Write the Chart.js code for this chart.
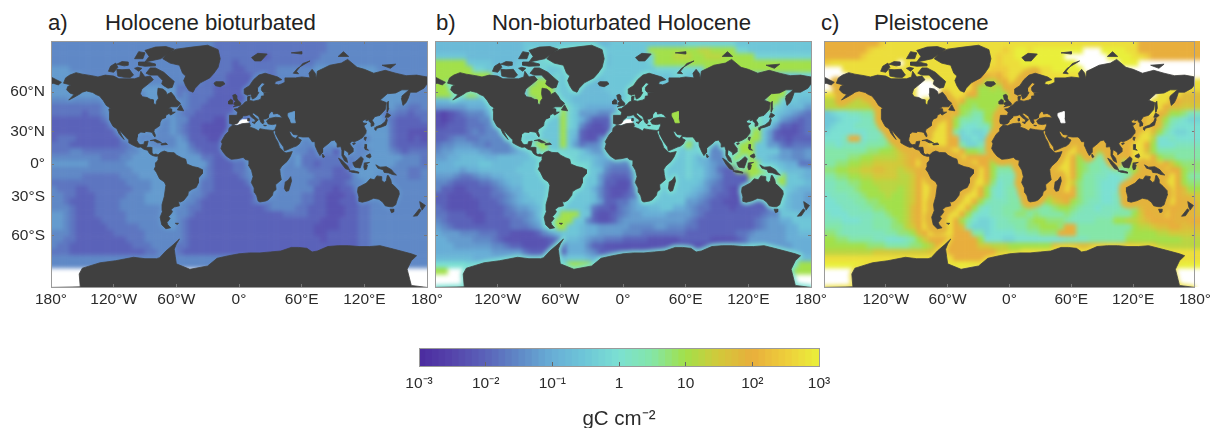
<!DOCTYPE html>
<html>
<head>
<meta charset="utf-8">
<title>Carbon maps</title>
<script src="https://cdn.jsdelivr.net/npm/chart.js@4"></script>
<style>
  html, body { margin: 0; background: #fff; overflow: hidden; }
  body { position: relative; width: 1217px; height: 428px; font-family: "Liberation Sans", Arial, sans-serif; }
  canvas { position: absolute; left: 0; top: 0; }
  .fundo { filter: blur(2px); }
  .titulo { position: absolute; top: 9px; font-size: 22.2px; line-height: 28px; color: #222; white-space: nowrap; }
</style>
</head>
<body>
<span class="titulo" style="left:48px">a)</span>
<span class="titulo" style="left:105px">Holocene bioturbated</span>
<span class="titulo" style="left:436px">b)</span>
<span class="titulo" style="left:492px">Non-bioturbated Holocene</span>
<span class="titulo" style="left:821px">c)</span>
<span class="titulo" style="left:874px">Pleistocene</span>
<canvas class="fundo" id="mapABase" width="1217" height="428"></canvas>
<canvas class="fundo" id="mapBBase" width="1217" height="428"></canvas>
<canvas class="fundo" id="mapCBase" width="1217" height="428"></canvas>
<canvas id="mapA" width="1217" height="428"></canvas>
<canvas id="mapB" width="1217" height="428"></canvas>
<canvas id="mapC" width="1217" height="428"></canvas>
<canvas id="colorbar" width="1217" height="428"></canvas>
<script>
// tick labels
const lonTicks = ['180°', '120°W', '60°W', '0°', '60°E', '120°E', '180°'];
const latValues = [60, 30, 0, -30, -60];
const latTicks = ['60°N', '30°N', '0°', '30°S', '60°S'];
const colorbarTicks = ['10⁻³', '10⁻²', '10⁻¹', '1', '10', '10²', '10³'];
const colorbarLevels = [-2.95, -2.85, -2.75, -2.65, -2.55, -2.45, -2.35, -2.25, -2.15, -2.05,
  -1.95, -1.85, -1.75, -1.65, -1.55, -1.45, -1.35, -1.25, -1.15, -1.05,
  -0.95, -0.85, -0.75, -0.65, -0.55, -0.45, -0.35, -0.25, -0.15, -0.05,
  0.05, 0.15, 0.25, 0.35, 0.45, 0.55, 0.65, 0.75, 0.85, 0.95,
  1.05, 1.15, 1.25, 1.35, 1.45, 1.55, 1.65, 1.75, 1.85, 1.95,
  2.05, 2.15, 2.25, 2.35, 2.45, 2.55, 2.65, 2.75, 2.85, 2.95];

// colour scale, log10(gC cm-2)
const stopValues = [-3, -2.5, -2, -1.5, -1, -0.5, 0, 0.5, 1, 1.5, 2, 2.5, 3];
const stopColors = [[75, 42, 159], [85, 68, 171], [90, 98, 185], [95, 136, 198], [104, 174, 214], [110, 198, 216],
  [123, 224, 210], [132, 230, 168], [162, 224, 74], [210, 201, 58], [232, 174, 60], [238, 205, 59], [233, 239, 58]];

// one letter per cell, a = 10^-3 ... m = 1 ... y = 10^3 (steps of 0.25), . = no data
// each group of ten cells is 60 degrees of longitude
const holoceneRows = [
  'gggggggggg gggggggggg ggggggffff ffffffffff ffffgggggg gggggggggg',
  'gggggggggg gggggggggg ggggggffff ffffffffff ffffgggggg gggggggggg',
  'gggggggggg gggggggggg ggggggffff fffeefffff fffggggggg gggggggggg',
  'gggggggggg gggggggggg ggggggfffe ffffffffff ffgggggggg gggggggggg',
  'hhhggggggg gggggggggg ggggggfffe efffffgggg gghhhhhhhh hhgggggggg',
  'hhhhhggggg gggggggggg gggggfffee eeffffgggg gghhhhhhhh hhhggggggg',
  'hhhhhhgggg gggggggggg ggggffffee eeffgggggg gggggggggg hhhhhhgggg',
  'hhhhhhhhhg gggghhhhhh ffffffeeee eefhhhgggg gggggggggg ggghhhhhgg',
  'hhhhhhhhhg ggggghhhhh fgffffeeee eefhhhhggg gggggggggg gghhhhhggg',
  'gggggggggg ggggghhhhh ggfffeeeee eegghhhggg gggggggggg gghhhhhggg',
  'ffffffffgg ggggghhggg ggffeeeeee efggggffgg gggggggggg gghhhggffg',
  'fffffeffgg gggggggggg gffeeeeeee eegggggggg gggggggggg hhhfgffeff',
  'eeeeeeeefg gggggggggh ggeeeeddee eehhhhhggg gggggggggg hhhgfeeeef',
  'eeeeeeeeef gggggggggh gfeeddddee ehhhhhhhhg gggggggggg hhhhfeeeee',
  'eeeeeeeeee fggggggggh gfeeddddee ehhhhhgggg gggggggggg hhhhfeeddd',
  'efffeeeeee efgggggggg hgeeedddee eggggggggg gggggggggg ghhhfeeded',
  'fffeeeeeee effggggggg hhfeeeeeee fggggggggg ggggghgggg hhhhfeeeee',
  'fffggfffff ffgghhhhhh hhgfeeeeee efgggggggg gfffgeeggg ghhhgfefff',
  'ggggggggff fgghhhhhhh hhhhffeeef fggggggggh ffffffffgg hhhhhhgggf',
  'hhhhhhgggg gghhhhhhhh hhhhhfeeef fggggggggh ffefffffgg hhhhhggggf',
  'gggggggggg ggghhhhhhh hhhhgfeeef fggggggggg gffffeefhh hhhhgggffg',
  'gggggfffff fggghhhhhh hhhggfeeee fggggggggg ggfffeeegh hhgggggffg',
  'ffffffffff ffgggghhhh hgggffeeee efgggggggg gffeeeefgg hhgggggggg',
  'gfffeeffff fffggghhhh hhggffeeee eefggggggg ggeeedeeff gggggggggg',
  'ggffeeefff ffggghhhhh hhggfeeeee eeeefggggg ffeedddeef gggggggggg',
  'ggfeeeefff fgggghhhhh gggfeeeeee eefffggggg ffeeddeeef fggggggggg',
  'gggfeeefff fggggggggg ggffeeeeee eeeefggggf feeedddeef fggggggggg',
  'hhgfeeefff ffgggggggh ggfeeeeeee eeeeeeefff feeedddeef fggggggggg',
  'hhgfeeeeff ffgggggggh gfeeeeeeee eeeeeeeeee eeedddeeef fggggggggg',
  'hhgfeeeeef ffffgggggh gfeeeeeeee eeeeeeeeee eeddddeeef fggggggggg',
  'gggfeeeeee fffffggggg gfeeeeeeee eeeeeeeeee eeddeeeeef fggggggggg',
  'ggffeeeeee eefffggggg gfeeeeeeee eeeeeeeeee eeedeeeeef fggggggggg',
  'gffeeeeeee eeefffgggg ffeeeeeeee eeeeeeeeee eeeeeeeeef fggggggggg',
  'fffeeeeeee eeeeeffggg feeeeeeeee eeeeeeeeee eeeeeeeeef fggggggggg',
  'gggggggggg gggggggggg gggggggggg gggggggggg gggggggggg gggggggggg',
  'gggggggggg gggggggggg gggggggggg gggggggggg gggggggggg gggggggggg',
  '.......... .......... .......... .......... .......... ..........',
  '.......... .......... .......... .......... .......... ..........',
  '.......... .......... .......... .......... .......... ..........'
];
const nonBioturbatedRows = [
  'jjjjjjjjjj jjjjkkkkkk kkkkkkjjkk kkkkkkkkkk llllllllkk kkkkkkkkkk',
  'jjjjjjjjjj jjjjklllll kkkkkkkkkk kkkkqqqqqq qqrrqqqqll kkkkkkkkkk',
  'kkkkkjjjjj jjjjklllll lkkkkjjjkk kkkklqqqrr rqqrrrqqqq qlllllllll',
  'qqqqqkkkkj jjjkklllll lllkkjjjkk kkkklqqqqq qqqqqqqqqq qqqqqqqqqq',
  'qqqqqqllkk kkkkllllkk kklkkkkkkk kkkkklllll lllqqqqqqq qqqqqqqqqq',
  'qqqqqqqqqk kkkkkkklkl kkkkjjkkkk kkkkkkkkll kkkkkkkkkk kkkkkkkkll',
  'qqqqqqqqlk kkkkkkqqql kkkjjjjkkk kkqkkkkkkk kkkkkkkkkk kkkkkkkkll',
  'qqqqqqqqqk jkkkkqqqql kkjjjjjkkk kqqqkkkkkk kkkkkkkkkk kkkkqqllkk',
  'qqqqqqqkkj jkkkkqqqql kkjjjjjjkk kqqkkkkkkk kkkkkkkkkk kkkqqqlkkk',
  'jjjjjjjjjj jjkkkkqqkk kkjjjjjjjj lqqkkkkkkk kkkkkkkkkk kkkqqlkkjj',
  'hhhhhiiijj jkkkkkkkkk qlkjiiiiii iikkkkkkkk kkkkkkkkkk kkkqlkjjjh',
  'dcdefgggii jjkkkkkkkk qlkhhhgggg hhkkkkkkkk kkkkkkkkkk kkllkjihgf',
  'dcdeeffggi jjkkkkkkkk qlkigeeeee fhikllkkkk kkkkkkkkkk kqllkhgfef',
  'ddeeefffgh jjjkkkkkkk qlkgeddeed fhkllllkkk qqkkkkkkkk qqlkheedef',
  'eeeeefgfgg hjkkkkkkkk qkjeddddee dgkllllkkk kqkkkkkkqq qqkhedddef',
  'eefggffggg ghjkkkkkkk qkieddgdde eiklllkkkk kqkkkkkkqq qqkheedeee',
  'fgghhhggfg gghkkkqqkk qkhfgghfee fikkkkkkkk qkkhggfkqq qkkhhfefff',
  'ghhiiiihhg gghijkkqkk lllkihhhgh iikkkkkkkk llkiggefqq qkkkkhhggh',
  'hhiijjjjii jjjjjkkkkk lllkkjiihh hhkkkkkkkk lkiiggfqqq qkkjihhggh',
  'iiijjjjkkj jjjjkkkkkk klllljihgg ghikkkkkkk lkjihggqqq qqkkkjiiff',
  'iiiihiijjj jjjkkkkkkk kkkkkkjgff fghikkkkkk lkkihfeeqq qqqqkkjjji',
  'hhhgffghhi ijjjkkkkkk kkkkkkhfee eghikkkkkk lkkihgeeee qqqqqqkkji',
  'ggfeeeeffg hijjkkkkkk kkkkkkheed deghkkkkkk kkjhgfeeed eqqqqqkkkj',
  'geeddeeeef ghiikkkkkk kkkkkigedd dfghkkkkkk kjihffedde eekkkkkjii',
  'eeddddeeef fghijkkkkk kkkkkjgedd efgikkkkkk jihgfeedde eeekkkjiih',
  'eedddddeee fghijjkkkk kkkkkjheef fhikkkkkkk hhgfeeddde eeekkkjiih',
  'fedddddeee efghhijkkk kkkkjfeedf ghiijjkkii hgffeeedee eeefhkjiii',
  'ffeeedddee effgghjkkk qqqkkeddef ghhiiiihhh hgfeeeeeee eefggkkkjj',
  'gfeeeeddee eeffghijkq qqkkgeddeg hhhhhhhhhh gfeeeeeeee efghhiikkk',
  'hgfeeeeeee eefffghjkq qkkjiihhhh hgggghhggg ffeeeeeeee efghhhiikk',
  'ihhhgggfff eeddddeghj kkkjiihhhh gggfffffff eeeeeeeeff ghhhhhiijj',
  'iihhhhgggf edddddddef ijjihggfff eeeeddddde eeeeddddef hhhhhhiiii',
  'iiihhhhhhg gfeeddddee fiiigeeddd dddddddddd ddddddddef hhhhhhhiii',
  'iiiiiiiiih hhhhfeeeee eiiihgeeee dddddeeeee eeeeeffghh hiiiiiiiii',
  'jjjjjjiiii iiiiihhhii jkkkjiiiii iiihhhhhhh hiiiiiiijj jjjjjjjjjj',
  'mmmmmlllll kkkkkkjjjk kqqqqkkkkk kkkkkkkkkk kkkkkkkkkk kkklllmmqq',
  'qq........ ...qqqqqqq qqqqqqqqqq qqqqqqqqqq qqqqqqqqqq qqqqqqqqqq',
  '.......... .......... .......... .......... .......... ..........',
  '.......... .......... .......... .......... .......... ..........'
];
const pleistoceneRows = [
  'uuuuuuuuuw xxxxxxxxxx xxxxxxxxxx xxxxxxxxxx xxxxxxxxxx xuuuuuuuuu',
  'uuuuuuuwxx xxxxxxxxxx xxxxxxxxxw xyyxyyyyyy yy...yyyyx xuuuuuuuuu',
  'uuuuuuwxxx xxxxxxxxxx xxxxxxxxwx xyyxyyyyy. ......yyyy xxwuuuuuuu',
  'wxxxxxxxxx xx.xxxxxxx xxxxxxxxwx xxyyyyyyyy y.......yy y.........',
  '...xxxxxxx xxxxxxxxxx xxxxxxxwww xxxxxxxyyy yy........ ..........',
  '....xxxxxx xxxxxxxxxx xxxxxuuvuw xxxxxxxxxx xxxxxxxxxx ..........',
  '....xxxxxx xxxxx...xx xxxxuurrtu xxx.xxxxxx xxxxxxxxxx xxxxxxxxxx',
  '....xxxxxx xxxxx....x xxxxuqqrqu x..xxxxxxx xxxxxxxxxx xxx..xxxxx',
  'xxxuuuuuut xxxxx....x xxxuuqqqqq w..xxxxxxx xxxxxxxxxx xx..xxxxtt',
  'rrrrrrsstu uxxxx.xxxx xxuqqqqqqq t.xxxxxxxx xxxxxxxxxx xx.xxxuutt',
  'rrrrrrrrrs tuuxxxxxxx xuqqpqqqqp txxxxxxxxx xxxxxxxxxx xxxxxuttss',
  'klmmnnoopq rtuxxxxxxx xuqpooqqqq uuxxxxxxxx xxxxxxxxxx xxxxutqqpn',
  'kklmmmnnoo qsuxxxxxxx uqoonnqqqq uxxxxxxxxx xxxxxxxxxx xxxutqonml',
  'klmmmnnnoo pruxxxxxxx uqnmmnnqqq uxxyyyyxxx ..xxxxxxxx xxxutpnmmm',
  'lmmmmmmnnn oqtuxxxxxx uolmllmpqr uxxxxxxxxx x.xxxxxxxx xxxtqomllm',
  'mmmnuumnno oqsuxxxxxx uullmllmpq tuxxxxxxxx ..xxxxxxxx xxxrmmnmmm',
  'nnmnnnnooo pqstuxxxxx uuollnmoqq suxxxxxxxx xxutsrsuuu xxuqmmmnnn',
  'oooooooppq qrstuuxxxx xxuqqpooqq ssuxxxxxxx xuqpqrtuuu xxtqoooooo',
  'ooooppqqrr rrstuxxxxx xxxuuuuqqq qrsuxxxxxx uqpooopqsu xxxuqppooo',
  'ooppqqrrss ssstuxxxxx xxxxxuuqpp pqrsuxxxxx uqpoonoopq txxxxusqpp',
  'ppqqrrsstt ssrstuxxxx xxxxxxuqoo opqsuxxxxx uqpoonnoop qtxxxxuuqp',
  'ooppqqrrss ssrrsuxxxx xxxxxxuqnn nopqsuxxxx uqoonnmmno pruxxxxuqo',
  'nnooppqqrr rrrrsuxxxx xxxxxxtpmn noopqsuxxx spoonmmmmn oqtxxxxuqp',
  'nnooopqqqr rrqrsuxxxx xxxxxuqnmn onopqrsuxx upoonmmmnn oqtuxxxutq',
  'mnnnoopqqq rqqrsuxxxx xxxxxuqnmn onoopqrtuu upoonmmnnn oquxxxxuts',
  'mmnnnooppq qqqrsuxxxx xxxxuqonnn oopoooqstu qponnmmnno ptuxxxxuts',
  'mmmnnnoopp qqqrtuxxxx xxxuqnmnno ooppooopqq ponnmnnnoo ptuxxxuuts',
  'nmmmnnnnoo pqqrtuxxxx xxuqnmmnno oppopoooop onnnnnnooo qsuuxxuttt',
  'nnnmmmnnoo opqrtuxxxx xuqomllmnn ooopqqpppo nnnnoooqqr rstuuuuttu',
  'ooonnnnnoo opprsuxxxx xutnlllmnn nooppqqqpu uooooooooo qrrsttuutt',
  'pponnnnnnn ooppqtuxxx xuuuoolmmm mnnoopppuu uoooooooop qqqqrrssss',
  'qqppoooonn mmmnoqsuuu uuuuuqmmml lmmmmmmmmn nnnooooooq qqqqqqqqrr',
  'qqqqqqqppp ooooppqruu uuuuussrrr qqqqqqqttt ttttuuuuuu ttttrrrrrr',
  'rrrrrrrrss ssssssstuu uuuuuuuuss rrxxxxxxxx xxxxxxxxxx xxxxxxxxxx',
  'xxxxxxxxxx xxxxxxxxxx xuuuuuuuxx xxxxxxxxxx xxxxxxxxxx xxxxxxxxxx',
  'yyyyyyyyyy yyyyyyyyyy yyyyyyyyyy yyyyyyyyyy yyyyyyyyyy yyyyyyyyyy',
  '.......... .......... .......... .......... .......... ..........',
  '.......... .......... .......... .......... .......... ..........',
  '.......... .......... .......... .......... .......... ..........'
];

// coastlines, [lon, lat]
const northAmericaArctic = [[-168,65.5],[-166,68.5],[-162,70],[-156,71.3],[-150,70.5],[-141,69.7],[-135,69],[-128,70],[-120,69.5],[-115,68],[-108,68],[-100,68],[-95,69],[-94,72],[-90,69],[-85,69.5],[-82,67.5],[-87,65],[-93,62],[-94.5,59],[-92.5,57],[-88,56.5],[-85,55.3],[-82.3,55],[-82,52.5],[-79.5,51.3],[-79,54],[-77,56],[-78,59],[-77.5,62.5],[-73,62],[-70,60.5],[-69,58.5],[-65,60],[-62,57.5]];
const northAmericaAtlantic = [[-62,57.5],[-60,55],[-56,52.5],[-59,50],[-65,50],[-68,48.8],[-65,48.5],[-64.5,46],[-61,46],[-65.5,43.7],[-67,45],[-70,43.5],[-70.5,41.7],[-74,40.5],[-75.5,38],[-76,35],[-78,33.8],[-81,32],[-81.5,30],[-80,26.8],[-80.5,25.2],[-82,27],[-83,29.2],[-85,29.7],[-89,30.2],[-90,29.2],[-94,29.6],[-97,27.8],[-97.5,25],[-97.8,22],[-96,19],[-94,18.2],[-91,18.7],[-90.5,21],[-87,21.5],[-88,17.5],[-88.8,15.8],[-84,15.8],[-83.5,12],[-83.5,10.5],[-81.5,9],[-79.5,9.5],[-77.3,8.5]];
const northAmericaPacific = [[-77.3,8.5],[-78,7.5],[-80,7.3],[-83,8.2],[-85.7,10],[-87.5,13],[-91,14],[-94,16],[-97,15.8],[-101,17.5],[-105.5,20],[-105.5,22.5],[-109,25.7],[-112.5,29.5],[-114.7,31.5],[-112.5,27],[-110,23],[-112,25],[-115,28.5],[-117,32.5],[-120.5,34.5],[-122.5,37.5],[-124.2,40.5],[-124,46],[-124.6,48.3],[-123,49],[-127,51],[-130,54.5],[-133.5,57.5],[-137,58.5],[-140,59.8],[-146,60.8],[-150,60],[-152,59],[-157,57],[-163,54.8],[-158,58.5],[-162,59.5],[-165,61.5],[-164,63.5],[-161,64.5],[-168,65.5]];
const southAmerica = [[-77.5,8.5],[-75,11],[-71.5,12.3],[-68,11],[-62,10.7],[-60,8.5],[-55,6],[-51,4.5],[-50,0],[-44,-2.5],[-39,-3.5],[-35,-5.5],[-35,-9],[-39,-13.5],[-39,-18],[-41,-22],[-45,-23.7],[-48.5,-26],[-49,-29],[-53,-33.5],[-56,-34.8],[-58,-34.3],[-57,-38],[-62,-39],[-65,-41],[-63.7,-42.7],[-65.5,-45],[-67.5,-46.5],[-66,-48],[-69,-51],[-68.2,-52.5],[-65.5,-54.7],[-70,-55.3],[-74,-52.5],[-75.5,-47],[-73,-42],[-73.7,-37],[-71.5,-30],[-70,-20],[-71.5,-17],[-76,-14],[-79,-8],[-81.2,-5],[-80,-2.5],[-80,1],[-78.5,2.5],[-77.3,4],[-77.5,8.5]];
const africa = [[-6,35.7],[-2,35],[3,36.8],[10,37.3],[11,35],[10,34],[15,32.5],[19,30.5],[20,32.5],[25,31.7],[32,31],[34.3,31.3],[32.5,29.9],[35,24],[37,21],[39,15.5],[43,11.7],[45,10.5],[51,11.8],[49,7],[46,2.5],[41,-2],[39,-5],[39.5,-10],[40.5,-15],[35,-19.5],[35.5,-24],[32.7,-26],[32,-29],[28,-33],[25.5,-34],[20,-34.8],[18.3,-34],[17,-29.5],[15,-26.5],[14.5,-22.5],[11.8,-17.5],[13.5,-12],[12,-6],[9,-1],[9.5,3.5],[6,4.3],[4,6.3],[-2,5],[-7.5,4.5],[-12,7.5],[-15,11],[-17.3,14.7],[-16,19],[-17,21],[-13,27.5],[-10,30],[-9.5,33],[-6,35.7]];
const eurasiaArctic = [[25,71],[31,70],[37,69],[41,67.5],[35,66.5],[34,65],[38,64.5],[40.5,65],[44,66],[44,68.5],[54,68.5],[60,69],[68,68.5],[67,71],[70,73],[73,71],[74,68],[75,72],[81,73.5],[87,75],[98,76],[104,77.7],[113,74],[120,73],[129,71],[140,72.5],[150,71],[160,69.7],[170,70],[180,69],[180,65],[177,62.5],[170,60],[164,60],[162,56],[160,53],[157,51],[155.5,56],[156,57.5],[163,61.5],[156,61.5],[150,59.5],[142,59],[135,54.7],[141,53],[140,48],[135,43.5],[130,42.5]];
const eurasiaSouth = [[130,42.5],[127.5,39.5],[129.3,37],[129,35.2],[126.5,34.5],[126.5,37],[125,38.5],[124.5,40],[121.5,39],[122,40.7],[118,39],[119,37.3],[122.5,37],[119.5,35],[121.8,31],[121.5,28.5],[118,24.5],[114,22.3],[110.5,21],[108,21.5],[106,19],[109,15],[109,11.5],[105,8.7],[105,10.5],[102.5,12.5],[100.5,13.5],[100,9],[103,5.5],[104,1.5],[101,3],[98.5,8],[98.5,13],[97.5,16.5],[94.5,16],[94,19],[91.5,22.5],[88,21.7],[86.5,20],[82,16.5],[80,15],[80,11],[77.5,8],[75.5,11.5],[73,17],[72.7,21],[70,21],[68.5,23.5],[66.5,25.3],[61,25.2],[57,25.8],[56.5,27],[52,27.5],[50,30],[48,30],[50,26.5],[51.5,25],[54,24],[56.3,26],[56.8,24],[59.7,22.5],[57.7,19],[55,17],[52,16],[45,13],[43.3,12.8],[42.7,16],[39,21],[35,28],[34.9,29.5],[34.3,31.5],[35.9,35],[36,36.7],[32,36],[28,36.5],[26.3,39],[29,41],[35,42],[41.5,41.5],[39,44],[36.5,45],[33,44.5],[33,46],[30.7,46.5],[28.5,44],[28,41.7],[26,40.7],[23,40.5],[24,38],[22.7,36.5],[21,38],[19.5,41],[19,42.5],[14,45.3],[12.5,44.5],[16,41.7],[18.5,40],[16,38],[15.5,40],[12,42],[10,44],[6.5,43.2],[3.3,43],[3,41.7],[0,39.5],[-0.5,38],[-2,36.8],[-5.5,36],[-9,37],[-9.5,39],[-8.8,43.5],[-2,43.5],[-1.2,46]];
const eurasiaBaltic = [[-1.2,46],[-4.7,48.3],[-1.5,48.7],[1.5,50.5],[3.5,51.5],[6,53.5],[8.5,54],[8.2,57],[10.7,57.5],[10,54.5],[14,54],[18.5,54.7],[21,55.5],[21.5,57.5],[24,57.5],[24,59.5],[29.5,60],[23,60],[21.3,61.5],[21.5,63],[25,65.2],[22,65.8],[17.5,62.5],[17.5,60.5],[19,59.8],[16.5,57],[14.5,56],[12.8,55.5],[11.2,58.8],[8,58],[5.3,59],[5,62],[10,64],[14,67.5],[19,70],[25,71]];
const australia = [[114,-22],[113.5,-26],[115,-31],[115,-34.3],[118,-35],[123.5,-33.8],[129,-31.6],[134,-32.5],[137.7,-35],[140,-38],[144,-38.7],[147,-38.8],[150,-37.2],[151.5,-33],[153.5,-28],[153,-25],[149,-21],[146,-18.5],[145.3,-15],[143,-11],[142,-11],[141,-16],[139,-17.5],[136,-15],[136.7,-12],[132,-11.3],[129.5,-15],[125.7,-14],[122,-18],[117,-20.5],[114,-22]];
const antarctica = [[-180,-85.2],[-152,-85],[-153,-80],[-150,-77.5],[-133,-75],[-118,-74],[-101,-72.3],[-90,-73],[-79,-73],[-76,-72.5],[-70,-69],[-63,-65.5],[-57,-62],[-60,-65],[-62,-68],[-61,-72],[-60,-75.5],[-47,-78],[-30,-76.5],[-21,-72.8],[-10,-71.5],[0,-70.5],[10,-70],[20,-70],[30,-69.5],[40,-69],[50,-67],[57,-67],[65,-67.5],[70,-69.5],[75,-69],[85,-66.5],[95,-66],[105,-66],[115,-66.5],[125,-66.5],[135,-66],[145,-67.5],[155,-69],[165,-70.5],[170,-71.5],[165,-74],[161,-78],[165,-84.5],[180,-85.2],[180,-87],[-180,-87]];
const greenland = [[-73,78],[-68,80.5],[-60,82],[-45,82.8],[-30,83.5],[-20,81.8],[-18,78],[-20,74],[-24,71],[-28,68.5],[-37,65.7],[-42,62.5],[-44,60],[-48,61],[-51,64],[-53,67],[-51,69.5],[-54,71],[-57,75],[-66,76],[-73,78]];
const madagascar = [[49.5,-12],[50.3,-16],[47.5,-25],[45,-25.5],[43.5,-23],[44.3,-17],[47,-15.5],[49.5,-12]];
const borneo = [[109,1.5],[111,2],[113.5,4],[116.8,7],[119,5],[117.7,1],[116,-3.8],[111,-3],[109.5,-0.5],[109,1.5]];
const newGuinea = [[131,-0.8],[135,-3],[141,-2.6],[146,-5.5],[148,-8],[150.7,-10.5],[147,-10],[143.5,-8.5],[139,-8],[138,-5.5],[133,-4],[131,-0.8]];
const tasmania = [[144.7,-40.8],[148.3,-40.8],[148,-43],[146,-43.5],[144.7,-40.8]];
const newZealandNorth = [[173,-34.5],[178.5,-37.7],[175.3,-41.5],[174,-39],[173,-34.5]];
const newZealandSouth = [[172.7,-40.5],[174.3,-41.7],[170.8,-45.9],[167,-46.3],[172.7,-40.5]];
const islands = [
  [[-80,73.7],[-72,71.5],[-67,69],[-62,66.5],[-64,63],[-68,62.5],[-72,64],[-74,65],[-73,67],[-78,70],[-85,70],[-89,71],[-85,73.7],[-80,73.7]],
  [[-117,73],[-112,72.8],[-105,73],[-101,70],[-104,68.7],[-110,68.8],[-116,69.5],[-117,73]],
  [[-125,72],[-123,74.5],[-118,76],[-116,74],[-120,71.5],[-125,72]],
  [[-90,76.5],[-85,77],[-75,78],[-62,82],[-70,83],[-80,82.8],[-90,81.5],[-86,79],[-90,76.5]],
  [[-96,75],[-90,74.5],[-80,74.7],[-80,75.6],[-88,76.5],[-96,76.5],[-96,75]],
  [[-117,75.5],[-110,74.7],[-106,75],[-106,76.5],[-112,76.7],[-117,75.5]],
  [[-100,73.5],[-96,72],[-93,73.5],[-97,74],[-100,73.5]],
  [[-100,78],[-92,78],[-90,80.5],[-96,81],[-100,78]],
  [[-180,69],[-175,67.5],[-170,66],[-173,64.5],[-178,65.5],[-180,65],[-180,69]],
  [[95.3,5.5],[98,4],[104,-2],[106,-5.8],[102,-4.5],[98.5,0],[95.3,5.5]],
  [[105.2,-6.5],[110,-6.5],[114.5,-7.7],[114.5,-8.7],[108,-7.8],[105.2,-6.5]],
  [[120,1],[125,1.5],[121,0],[123,-1],[122,-5],[120.3,-5.5],[119.5,-3],[120,1]],
  [[120.5,18.5],[122.2,18.3],[122,15],[124,13],[120.8,13.8],[120,16],[120.5,18.5]],
  [[122,8],[125.5,9.7],[126.5,7],[125,5.7],[122,7],[122,8]],
  [[130.9,34],[136,35.7],[140,38.5],[141.3,41.3],[142,39.5],[140.7,35.5],[136.5,34],[132,33],[130.9,34]],
  [[130,33.5],[131.8,33],[131,31],[130,32],[130,33.5]],
  [[140,42],[141.7,45.4],[145.3,43.5],[143,42],[140,42]],
  [[142,46],[143.5,49],[143,54],[142,53],[142,46]],
  [[120,25],[122,25],[121,22],[120,23],[120,25]],
  [[108.7,19.3],[110.5,20],[111,19],[109.5,18.2],[108.7,19.3]],
  [[80,9.5],[82,7],[80.5,6],[79.7,8],[80,9.5]],
  [[-5.5,50],[1.5,51.2],[1.7,52.7],[-1,54.5],[-2,56],[-2,57.7],[-3.5,58.6],[-6,58],[-5,55],[-3,54],[-4.5,53],[-5,51.7],[-3,51.3],[-5.5,50]],
  [[-10,52],[-6,52],[-6,54.5],[-8,55.3],[-10,54],[-10,52]],
  [[-24,65.5],[-22,66.4],[-15,66.3],[-13.5,65],[-18,63.4],[-22.5,64],[-24,65.5]],
  [[12,78.5],[18,80.3],[27,80],[21,77],[15,77],[12,78.5]],
  [[52,71],[56,73.5],[68,77],[61,75.8],[55,72],[57,70.7],[52,71]],
  [[95,79],[105,79],[100,81],[95,79]],
  [[137,75],[150,75.5],[145,73.5],[137,75]],
  [[50,80.5],[60,81],[60,80],[50,80.5]],
  [[-85,22],[-80,23],[-75,20.7],[-74.3,20],[-78,20],[-82,22],[-85,22]],
  [[-74.5,19],[-70,19.8],[-68.5,18.5],[-74,18],[-74.5,19]],
  [[-59,47.7],[-56,51.5],[-53,47],[-59,47.7]],
  [[-61,-51.5],[-58,-51.5],[-59,-52.3],[-61,-51.5]],
  [[8.3,41],[9.7,41],[9.6,39],[8.5,39],[8.3,41]],
  [[12.5,38],[15.5,38.2],[15,36.7],[12.5,38]],
  [[23.5,35.5],[26.3,35.2],[24.8,34.9],[23.5,35.5]]
];
const caspian = [[47,45],[53,46.5],[53,41.5],[54,37.5],[50,37.5],[49,40],[47,43],[47,45]];
const noDataMed = [[-4,36],[1,36.5],[9,37.5],[9,40],[3,40],[-4,36]];

const landColor = '#404040';
const axisColor = '#9a9a9a';
const textColor = '#2b2b2b';
const mapCols = 60;
const mapRows = 39;
const yLimit = 2.05;
const ghostCells = 3;

function miller (lat) {
  return 1.25 * Math.log(Math.tan(Math.PI / 4 + 0.4 * lat * Math.PI / 180));
}

function valueColor (v) {
  let i = 0;
  while (i < stopValues.length - 2 && v > stopValues[i + 1]) i++;
  const t = (v - stopValues[i]) / (stopValues[i + 1] - stopValues[i]);
  const c = stopColors[i].map((s, k) => Math.round(s + (stopColors[i + 1][k] - s) * t));
  return 'rgb(' + c.join(',') + ')';
}

function letterValue (letter) {
  return -3 + (letter.charCodeAt(0) - 97) * 0.25;
}

function toPoints (coast) {
  return coast.map(p => ({ x: p[0], y: miller(p[1]) }));
}

function landDataset (coast, color) {
  return { type: 'line', data: toPoints(coast), fill: 'shape', backgroundColor: color, borderColor: color,
    borderWidth: 0.8, pointRadius: 0, tension: 0, clip: 0 };
}

function rimDataset (coast, color, width) {
  return { type: 'line', data: toPoints(coast), fill: false, borderColor: color, borderWidth: width,
    borderJoinStyle: 'round', borderCapStyle: 'round', pointRadius: 0, tension: 0, clip: false };
}

// cells repeat past the frame so the blur does not fade at the edges
function cellDataset (rows) {
  const points = [];
  const colors = [];
  for (let r = -ghostCells; r < mapRows + ghostCells; r++) {
    const cells = rows[Math.max(0, Math.min(r, rows.length - 1))].replace(/ /g, '');
    for (let c = -ghostCells; c < mapCols + ghostCells; c++) {
      const letter = cells[Math.max(0, Math.min(c, cells.length - 1))];
      if (letter == '.') continue;
      points.push({ x: -180 + (c + 0.5) * 360 / mapCols, y: yLimit - (r + 0.5) * 2 * yLimit / mapRows });
      colors.push(valueColor(letterValue(letter)));
    }
  }
  return { data: points, pointStyle: 'rect', pointRadius: 4.8, pointBorderWidth: 0,
    pointBackgroundColor: colors, clip: false };
}

function frameAxis (position, extra) {
  const horizontal = position == 'bottom' || position == 'top';
  return Object.assign({
    type: 'linear',
    position: position,
    afterFit: s => { if (horizontal) s.height = 0; else s.width = 0; },
    border: { color: axisColor, width: 1, z: 2 },
    grid: { drawOnChartArea: false, drawTicks: true, tickLength: -3, tickColor: '#777', z: 2 },
    ticks: { display: false, autoSkip: false, maxRotation: 0, minRotation: 0 }
  }, extra);
}

// blurred layer with the cells and shelf bands
function gerandoFundo (id, rows, left, right, rims) {
  const canvas = document.getElementById(id);
  canvas.style.clipPath = 'inset(41px ' + (1217 - right) + 'px 141px ' + left + 'px)';
  const pad = ghostCells * 376 / mapCols;
  const datasets = rims.map(rim => rimDataset(rim[0], rim[1], rim[2]));
  datasets.push(cellDataset(rows));
  return new Chart(canvas, {
    type: 'scatter',
    data: { datasets: datasets },
    options: {
      responsive: false,
      animation: false,
      events: [],
      layout: { padding: { left: left - pad, right: 1217 - right - pad, top: 41 - pad, bottom: 141 - pad } },
      plugins: { legend: { display: false }, tooltip: { enabled: false } },
      scales: {
        x: { type: 'linear', display: false, min: -180 - ghostCells * 6, max: 180 + ghostCells * 6 },
        y: { type: 'linear', display: false, min: -yLimit - pad / 60, max: yLimit + pad / 60 }
      }
    }
  });
}

function gerandoMapa (id, left, right, options) {
  const latTickList = () => latValues.map(lat => ({ value: miller(lat) }));
  const xAxisBase = { min: -180, max: 180 };
  const yAxisBase = { min: -yLimit, max: yLimit, afterBuildTicks: s => { s.ticks = latTickList(); } };

  const xAxis = frameAxis('bottom', xAxisBase);
  xAxis.afterFit = s => { s.height = 141; };
  xAxis.ticks = { display: true, stepSize: 60, autoSkip: false, maxRotation: 0, minRotation: 0, padding: 6, color: textColor,
    font: { family: 'Liberation Sans', size: 15.5 },
    callback: (v, i) => (i == 0 && !options.firstLabel) ? '' : lonTicks[i] };
  const xTop = frameAxis('top', xAxisBase);
  xTop.ticks = { display: false, stepSize: 60 };

  const yAxis = frameAxis('left', yAxisBase);
  yAxis.afterFit = s => { s.width = left; };
  yAxis.ticks = { display: options.latLabels, autoSkip: false, padding: 9, color: textColor,
    font: { family: 'Liberation Sans', size: 15.5 }, callback: (v, i) => latTicks[i] };
  const yRight = frameAxis('right', yAxisBase);

  const datasets = [];
  datasets.push(landDataset(northAmericaArctic.concat(northAmericaAtlantic, northAmericaPacific), landColor));
  datasets.push(landDataset(eurasiaArctic.concat(eurasiaSouth, eurasiaBaltic), landColor));
  [southAmerica, africa, australia, antarctica, greenland, madagascar, borneo, newGuinea, tasmania, newZealandNorth, newZealandSouth]
    .concat(islands).forEach(coast => {
      datasets.push(landDataset(coast, landColor));
    });
  datasets.unshift(landDataset(caspian, options.caspian));
  if (options.noDataMed) datasets.push(landDataset(noDataMed, '#ffffff'));

  return new Chart(document.getElementById(id), {
    type: 'scatter',
    data: { datasets: datasets },
    options: {
      responsive: false,
      animation: false,
      events: [],
      layout: { padding: { left: 0, right: 1217 - right, top: 41, bottom: 0 } },
      plugins: { legend: { display: false }, tooltip: { enabled: false } },
      scales: { x: xAxis, xTop: xTop, y: yAxis, yRight: yRight }
    }
  });
}

const lowRims = [northAmericaAtlantic, northAmericaPacific, southAmerica, africa, eurasiaSouth, eurasiaBaltic, australia];

gerandoFundo('mapABase', holoceneRows, 51, 427, lowRims.map(c => [c, valueColor(-1.25), 3]));
gerandoMapa('mapA', 51, 427, { firstLabel: true, latLabels: true, noDataMed: true, caspian: valueColor(-1.25) });

gerandoFundo('mapBBase', nonBioturbatedRows, 435, 811,
  lowRims.concat([antarctica, greenland, madagascar, borneo, newGuinea]).map(c => [c, valueColor(0), 5]));
gerandoMapa('mapB', 435, 811, { firstLabel: false, latLabels: false, noDataMed: true, caspian: valueColor(1) });

gerandoFundo('mapCBase', pleistoceneRows, 824, 1200,
  [[antarctica, valueColor(2.75), 4]].concat(
    lowRims.concat([madagascar, newGuinea, tasmania, newZealandNorth, newZealandSouth]).map(c => [c, valueColor(1.9), 13])));
gerandoMapa('mapC', 824, 1200, { firstLabel: false, latLabels: false, noDataMed: false, caspian: '#ffffff' });

// colour bar
new Chart(document.getElementById('colorbar'), {
  type: 'bar',
  data: { datasets: [{
    data: colorbarLevels.map(v => ({ x: v, y: 1 })),
    backgroundColor: colorbarLevels.map(valueColor),
    barThickness: 7.2,
    borderWidth: 0
  }] },
  options: {
    responsive: false,
    animation: false,
    events: [],
    layout: { padding: { left: 419, right: 1217 - 819, top: 348, bottom: 0 } },
    plugins: { legend: { display: false }, tooltip: { enabled: false } },
    scales: {
      x: frameAxis('bottom', {
        min: -3, max: 3, offset: false,
        afterFit: s => { s.height = 428 - 366; },
        grid: { drawOnChartArea: false, drawTicks: true, tickLength: -4, tickColor: '#666', z: 2, offset: false },
        ticks: { stepSize: 1, autoSkip: false, maxRotation: 0, minRotation: 0, padding: 12, color: textColor,
          font: { family: 'Liberation Sans', size: 15.5 }, callback: (v, i) => colorbarTicks[i] },
        title: { display: true, text: 'gC cm⁻²', color: textColor, font: { family: 'Liberation Sans', size: 20.5 }, padding: { top: 0, bottom: -4 } }
      }),
      xTop: frameAxis('top', { min: -3, max: 3, grid: { display: false }, ticks: { display: false } }),
      y: frameAxis('left', { min: 0, max: 1, grid: { display: false } }),
      yRight: frameAxis('right', { min: 0, max: 1, grid: { display: false } })
    }
  }
});
</script>
</body>
</html>
